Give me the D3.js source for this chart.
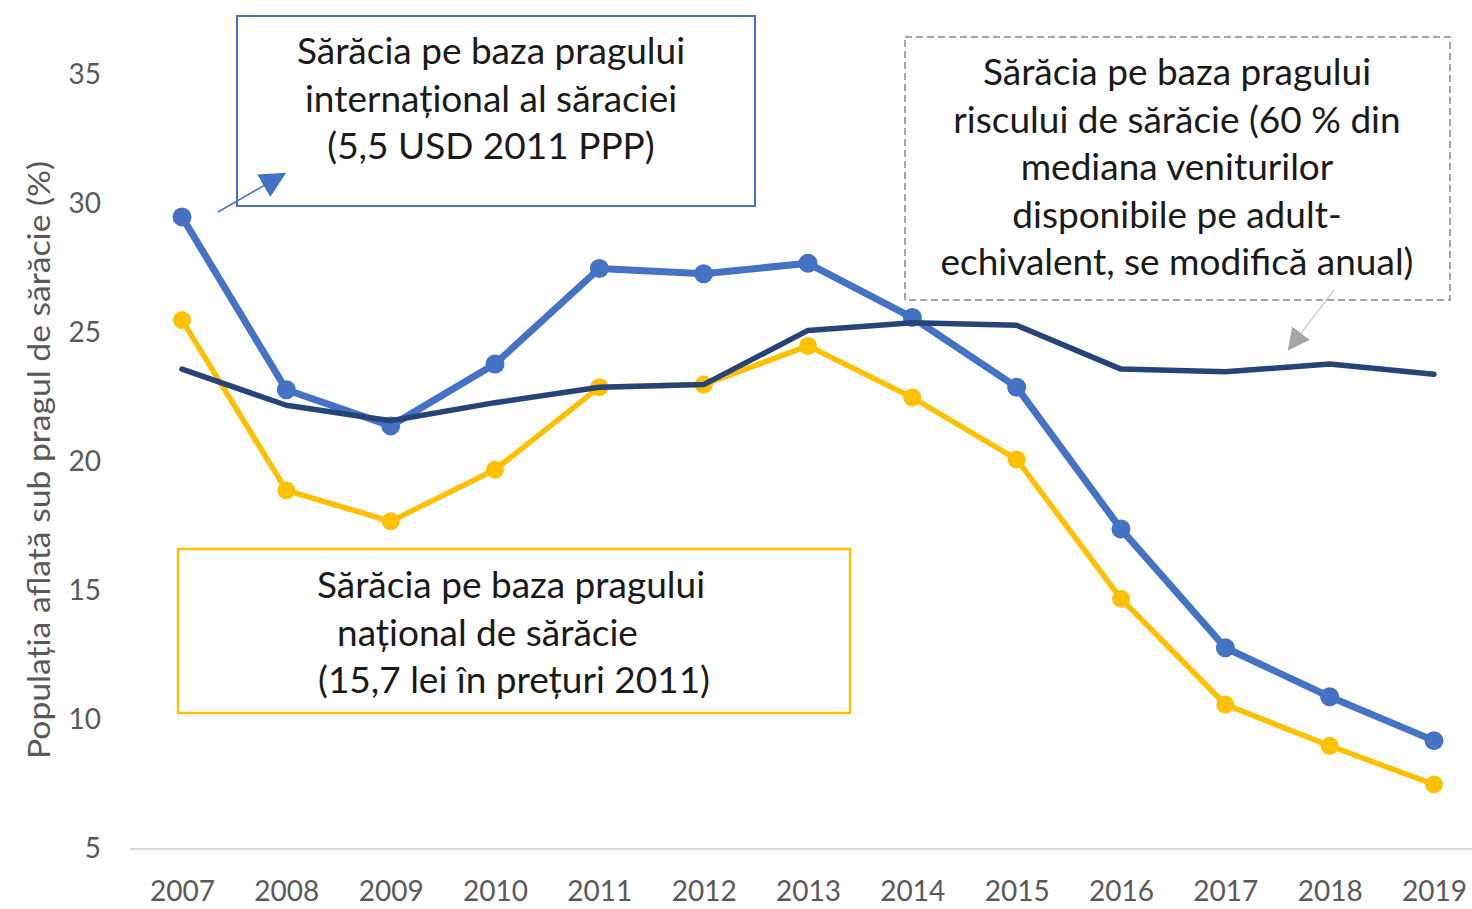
<!DOCTYPE html>
<html>
<head>
<meta charset="utf-8">
<script src="https://cdn.jsdelivr.net/npm/d3@7"></script>
<style>
  body { margin: 0; background: #fff; }
  svg { display: block; font-family: Lato, "Open Sans", sans-serif; }
</style>
</head>
<body>
<svg width="1472" height="909"></svg>
<script>
const years = [2007, 2008, 2009, 2010, 2011, 2012, 2013, 2014, 2015, 2016, 2017, 2018, 2019];
const international = [29.5, 22.8, 21.4, 23.8, 27.5, 27.3, 27.7, 25.6, 22.9, 17.4, 12.8, 10.9, 9.2];
const national = [25.5, 18.9, 17.7, 19.7, 22.9, 23.0, 24.5, 22.5, 20.1, 14.7, 10.6, 9.0, 7.5];
const riskLine = [23.6, 22.2, 21.6, 22.3, 22.9, 23.0, 25.1, 25.4, 25.3, 23.6, 23.5, 23.8, 23.4];
const yTicks = [5, 10, 15, 20, 25, 30, 35];

const svg = d3.select("svg");

const x = d3.scalePoint().domain(years).range([182, 1434]);
const y = d3.scaleLinear().domain([5, 35]).range([849, 75]);

// axis line at the bottom
svg.append("line")
    .attr("x1", 130).attr("x2", 1472)
    .attr("y1", y(5)).attr("y2", y(5))
    .attr("stroke", "#d9d9d9").attr("stroke-width", 2);

const yAxis = svg.append("g")
    .attr("transform", "translate(101,0)")
    .call(d3.axisLeft(y).tickValues(yTicks).tickSize(0).tickPadding(0));
yAxis.select(".domain").remove();
yAxis.selectAll("text")
    .attr("fill", "#595959")
    .attr("font-size", 28)
    .attr("font-family", "Lato, 'Open Sans', sans-serif");

const xAxis = svg.append("g")
    .attr("transform", `translate(0,${y(5)})`)
    .call(d3.axisBottom(x).tickSize(0).tickPadding(32).tickFormat(d3.format("d")));
xAxis.select(".domain").remove();
xAxis.selectAll("text")
    .attr("fill", "#595959")
    .attr("font-size", 28)
    .attr("font-family", "Lato, 'Open Sans', sans-serif");

svg.append("text")
    .attr("transform", `translate(50,${(y(35) + y(5)) / 2 - 2}) rotate(-90)`)
    .attr("text-anchor", "middle")
    .attr("fill", "#595959")
    .attr("font-size", 30)
    .attr("textLength", 598)
    .attr("lengthAdjust", "spacingAndGlyphs")
    .text("Populația aflată sub pragul de sărăcie (%)");

const line = d3.line().x((d, i) => x(years[i])).y(d => y(d));

// annotation boxes (behind the lines)
svg.append("rect")
    .attr("x", 237).attr("y", 16).attr("width", 518).attr("height", 190)
    .attr("fill", "#fff").attr("stroke", "#4472c4").attr("stroke-width", 2);
svg.append("rect")
    .attr("x", 905).attr("y", 37).attr("width", 545).attr("height", 263)
    .attr("fill", "#fff").attr("stroke", "#a6a6a6").attr("stroke-width", 2)
    .attr("stroke-dasharray", "7,4");
svg.append("rect")
    .attr("x", 178).attr("y", 549).attr("width", 672).attr("height", 164)
    .attr("fill", "#fff").attr("stroke", "#ffc000").attr("stroke-width", 2.5);

// series
svg.append("path").datum(national)
    .attr("d", line).attr("fill", "none")
    .attr("stroke", "#ffc000").attr("stroke-width", 5.5).attr("stroke-linejoin", "round");
svg.append("g").selectAll("circle").data(national).enter().append("circle")
    .attr("cx", (d, i) => x(years[i])).attr("cy", d => y(d))
    .attr("r", 9).attr("fill", "#ffc000");

svg.append("path").datum(international)
    .attr("d", line).attr("fill", "none")
    .attr("stroke", "#4472c4").attr("stroke-width", 7).attr("stroke-linejoin", "round");
svg.append("g").selectAll("circle").data(international).enter().append("circle")
    .attr("cx", (d, i) => x(years[i])).attr("cy", d => y(d))
    .attr("r", 9.5).attr("fill", "#4472c4");

svg.append("path").datum(riskLine)
    .attr("d", line).attr("fill", "none")
    .attr("stroke", "#264478").attr("stroke-width", 5.5).attr("stroke-linejoin", "round")
    .attr("stroke-linecap", "round");

// arrow markers
const defs = svg.append("defs");
function arrowHead(id, color, size) {
  defs.append("marker")
      .attr("id", id)
      .attr("viewBox", "0 0 10 10")
      .attr("refX", 9).attr("refY", 5)
      .attr("markerWidth", size).attr("markerHeight", size)
      .attr("markerUnits", "userSpaceOnUse")
      .attr("orient", "auto")
      .append("path").attr("d", "M0,0 L10,5 L0,10 Z").attr("fill", color);
}
arrowHead("arrBlue", "#4472c4", 26);
arrowHead("arrGrey", "#a6a6a6", 22);

svg.append("line")
    .attr("x1", 218).attr("y1", 212).attr("x2", 284).attr("y2", 174)
    .attr("stroke", "#4472c4").attr("stroke-width", 1.5)
    .attr("marker-end", "url(#arrBlue)");
svg.append("line")
    .attr("x1", 1334).attr("y1", 290).attr("x2", 1289).attr("y2", 349)
    .attr("stroke", "#bfbfbf").attr("stroke-width", 1.2)
    .attr("marker-end", "url(#arrGrey)");

function label(lines, xs, y0, step, anchor) {
  const t = svg.append("text")
      .attr("font-size", 37)
      .attr("fill", "#1a1a1a")
      .attr("text-anchor", anchor);
  lines.forEach((s, i) => {
    t.append("tspan")
        .attr("x", Array.isArray(xs) ? xs[i] : xs)
        .attr("y", y0 + i * step)
        .text(s);
  });
}

label(["Sărăcia pe baza pragului", "internațional al săraciei", "(5,5 USD 2011 PPP)"],
      491, 64, 47.5, "middle");
label(["Sărăcia pe baza pragului", "riscului de sărăcie (60 % din", "mediana veniturilor",
       "disponibile pe adult-", "echivalent, se modifică anual)"],
      1177, 85, 47.5, "middle");
label(["Sărăcia pe baza pragului", "național de sărăcie", "(15,7 lei în prețuri 2011)"],
      [317, 337, 318], 598, 47.5, "start");
</script>
</body>
</html>
